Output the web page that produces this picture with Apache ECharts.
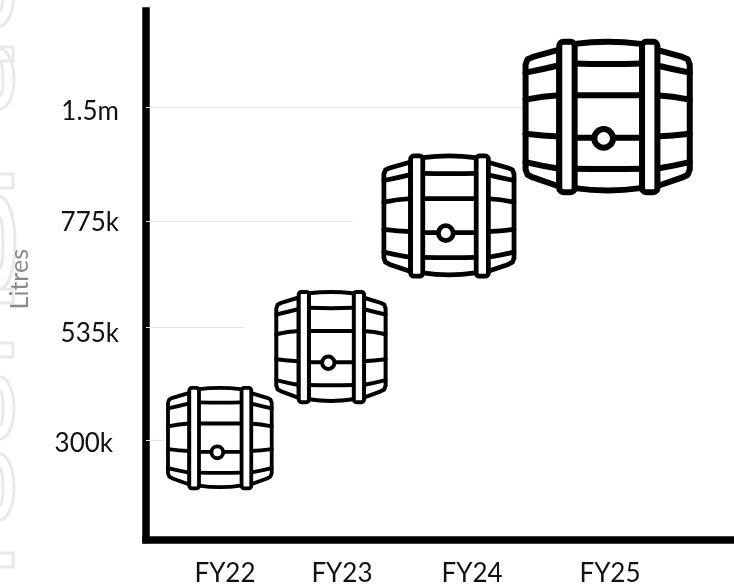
<!DOCTYPE html>
<html>
<head>
<meta charset="utf-8">
<style>html,body{margin:0;padding:0;background:#fff}#chart{width:734px;height:587px}</style>
<script src="https://cdn.jsdelivr.net/npm/echarts@6/dist/echarts.min.js"></script>
</head>
<body>
<div id="chart"></div>
<script>
// Annual volume by fiscal year
const fiscalYears = ['FY22', 'FY23', 'FY24', 'FY25'];
const litres = [300000, 535000, 775000, 1500000];
const litreTickLabels = ['300k', '535k', '775k', '1.5m'];

// The axes are hand-spaced, so each tick sits at its own place on a unit scale.
const yearTicks = [0, 0.914, 1.93, 3.008];
const litreLabelTicks = [-0.036, 0.955, 1.955, 2.955];
const litreGuideTicks = [0, 1.018, 1.973, 3];
const guideEnds = [-0.47, 0.15, 1.0, 2.34];
const barrelNudgeX = [-0.04, -0.086, -0.18, -0.018];
const barrelNudgeY = [0.018, -0.18, 0.045, -0.09];
const barrelAspect = [1.02, 0.98, 1.07, 1.08];

const INK = '#000';
const GUIDE = '#dbe6fa';
const FONT = 'Lato';

// Height in pixels grows linearly with the litres it stands for.
const barrelHeight = (v) => 105 + (v - 300000) * 0.0000433;

// One barrel, laid out on a 508 x 470 design box centred on (cx, cy).
function barrelChildren(cx, cy, w, h) {
  const sx = w / 508, sy = h / 470;
  const X = (x) => cx + (x - 254) * sx;
  const Y = (y) => cy + (y - 235) * sy;
  const lw = Math.max(2.4, w * 18 / 508);
  const stroke = { stroke: INK, lineWidth: lw, fill: 'none', lineCap: 'round', lineJoin: 'round' };
  const pts = (list) => list.map((p) => [X(p[0]), Y(p[1])]);
  const curve = (x1, y1, cx1, cy1, x2, y2) => ({
    type: 'bezierCurve',
    shape: { x1: X(x1), y1: Y(y1), cpx1: X(cx1), cpy1: Y(cy1), x2: X(x2), y2: Y(y2) },
    style: stroke
  });
  const band = (x) => ({
    type: 'rect',
    shape: { x: X(x), y: Y(10), width: 46 * sx, height: 450 * sy, r: 12 * sx },
    style: { stroke: INK, lineWidth: lw, fill: '#fff', lineJoin: 'round' }
  });
  const leftStave = [[109, 33], [30, 55], [14, 62], [8, 78], [8, 392], [14, 408], [30, 416], [109, 443]];
  const rightStave = leftStave.map((p) => [508 - p[0], p[1]]);
  const hoops = [
    [8, 102, 60, 92, 109, 80, 155, 75, 254, 78, 357, 75, 399, 80, 448, 92, 500, 102],
    [8, 183, 60, 172, 109, 170, 155, 170, 254, 170, 357, 170, 399, 170, 448, 172, 500, 183],
    [8, 285, 60, 292, 109, 293, 155, 297, 254, 297, 357, 297, 399, 293, 448, 292, 500, 285],
    [8, 370, 60, 382, 109, 390, 155, 390, 254, 392, 357, 390, 399, 390, 448, 382, 500, 370]
  ];
  const children = [{
    type: 'polygon',
    shape: { points: pts(leftStave.concat([[155, 12], [254, 8], [353, 12]], rightStave.slice().reverse(), [[353, 455], [254, 462], [155, 455]])) },
    style: { fill: '#fff' }
  }];
  children.push({ type: 'polygon', shape: { points: pts(leftStave) }, style: stroke });
  children.push({ type: 'polygon', shape: { points: pts(rightStave) }, style: stroke });
  children.push(curve(155, 16, 254, 4, 353, 16));
  children.push(curve(155, 448, 254, 462, 353, 448));
  hoops.forEach((o) => {
    children.push(curve(o[0], o[1], o[2], o[3], o[4], o[5]));
    children.push(curve(o[6], o[7], o[8], o[9], o[10], o[11]));
    children.push(curve(o[12], o[13], o[14], o[15], o[16], o[17]));
  });
  children.push(band(109));
  children.push(band(357));
  children.push({
    type: 'circle',
    shape: { cx: X(242), cy: Y(299), r: 28 * sx },
    style: { stroke: INK, lineWidth: lw, fill: '#fff' }
  });
  return children;
}

// Pale concentric arcs and blocks running down the left edge of the page.
function edgeDecor() {
  const color = '#e9e9e9';
  const out = [];
  const block = (y) => out.push({
    type: 'rect', silent: true,
    shape: { x: -4, y: y, width: 17, height: 14 },
    style: { stroke: color, lineWidth: 3, fill: 'none' }
  });
  const ring = (cy, ry, rxOuter, rxInner) => {
    [[rxOuter, ry], [rxInner, ry * 0.55]].forEach((r) => out.push({
      type: 'ellipse', silent: true,
      shape: { cx: 0, cy: cy, rx: r[0], ry: r[1] },
      style: { stroke: color, lineWidth: 3, fill: 'none' }
    }));
  };
  [47, 174, 289, 343, 553].forEach(block);
  ring(-8, 34, 14, 3);
  ring(79, 30, 14, 3);
  ring(243, 46, 15, 3);
  ring(408, 31, 14, 3);
  ring(487, 33, 14, 3);
  return out;
}

const chart = echarts.init(document.getElementById('chart'));
chart.setOption({
  animation: false,
  backgroundColor: '#fff',
  textStyle: { fontFamily: FONT },
  graphic: { elements: edgeDecor() },
  grid: { left: 146, right: 0, top: 11, bottom: 47.5, containLabel: false, outerBoundsMode: 'none' },
  xAxis: {
    type: 'value',
    min: -0.617,
    max: 3.977,
    splitLine: { show: false },
    axisTick: { show: false },
    axisLine: { show: true, onZero: false, lineStyle: { color: INK, width: 7.5, cap: 'square' } },
    axisLabel: {
      customValues: yearTicks,
      margin: 21,
      color: '#111',
      fontFamily: FONT,
      fontSize: 26,
      formatter: (v) => fiscalYears[yearTicks.indexOf(v)]
    }
  },
  yAxis: {
    type: 'value',
    min: -0.896,
    max: 3.865,
    name: 'Litres',
    nameLocation: 'middle',
    nameRotate: 90,
    nameGap: 114,
    nameTextStyle: { color: '#8a8a8a', fontFamily: FONT, fontSize: 25, padding: [0, 8, 0, 0] },
    splitLine: { show: false },
    axisTick: { show: false },
    axisLine: { show: true, onZero: false, lineStyle: { color: INK, width: 7.5, cap: 'square' } },
    axisLabel: {
      customValues: litreLabelTicks,
      margin: 27,
      color: '#111',
      fontFamily: FONT,
      fontSize: 26,
      formatter: (v) => {
        const i = litreLabelTicks.indexOf(v);
        return i === 0 ? '{low|' + litreTickLabels[i] + '}' : litreTickLabels[i];
      },
      rich: { low: { fontFamily: FONT, fontSize: 26, color: '#111', padding: [0, 6, 0, 0] } }
    }
  },
  series: [
    {
      // Faint guides from the axis out to each tier
      type: 'custom',
      z: 1,
      clip: false,
      coordinateSystem: 'cartesian2d',
      data: litres.map((v, i) => [guideEnds[i], litreGuideTicks[i]]),
      renderItem: (params, api) => {
        const i = params.dataIndex;
        const a = api.coord([-0.617, litreGuideTicks[i]]);
        const b = api.coord([guideEnds[i], litreGuideTicks[i]]);
        const y = Math.round(a[1]) + 0.5;
        return {
          type: 'line',
          shape: { x1: a[0], y1: y, x2: b[0], y2: y },
          style: { stroke: GUIDE, lineWidth: 1 }
        };
      }
    },
    {
      // One barrel per fiscal year
      type: 'custom',
      z: 3,
      clip: false,
      coordinateSystem: 'cartesian2d',
      data: litres.map((v, i) => [yearTicks[i] + barrelNudgeX[i], litreGuideTicks[i] + barrelNudgeY[i], v]),
      renderItem: (params, api) => {
        const i = params.dataIndex;
        const c = api.coord([api.value(0), api.value(1)]);
        const h = barrelHeight(api.value(2));
        return { type: 'group', children: barrelChildren(c[0], c[1], h * barrelAspect[i], h) };
      }
    }
  ]
});
</script>
</body>
</html>
